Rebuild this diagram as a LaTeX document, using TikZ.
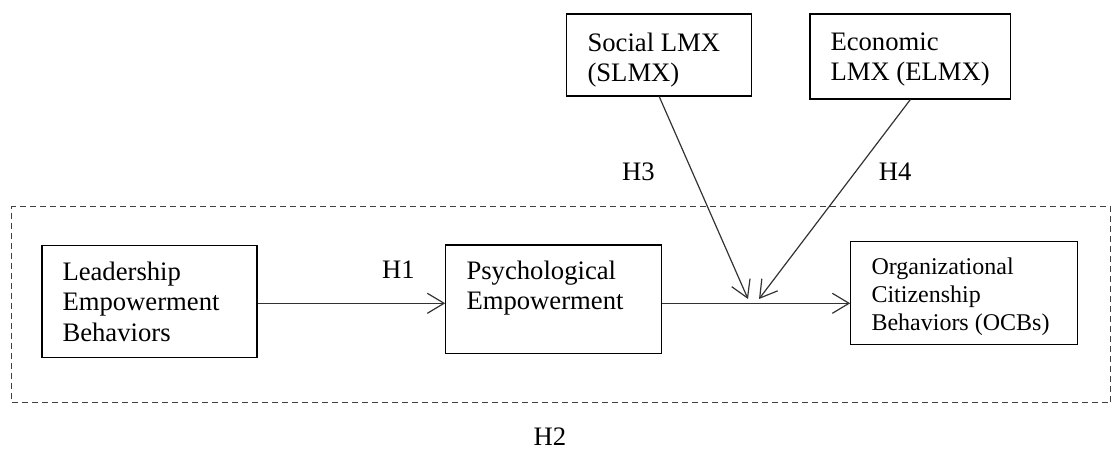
\documentclass[tikz,border=0pt]{standalone}
\usepackage{fontspec}
\setmainfont{Liberation Serif}
\usetikzlibrary{arrows.meta,fit}

\tikzset{every picture/.style={line width=0.75pt}}
\tikzset{
  hbox/.style={draw, inner sep=0pt, line width=0.8pt},
  htxt/.style={inner sep=0.75pt, align=left, font=\fontsize{20}{22.9}\selectfont},
  hlab/.style={inner sep=0.75pt, anchor=base west, font=\fontsize{20}{22.9}\selectfont},
  harr/.style={draw=black!80, line width=0.9pt, -{Straight Barb[length=12.5pt,width=15pt,line width=0.9pt]}},
}

\begin{document}
\begin{tikzpicture}[x=0.75pt,y=0.75pt,yscale=-1,xscale=1]
\useasboundingbox (0,0) rectangle (1113,449);

%Shape: Dashed frame
\node [draw=black!75, dash pattern=on 4.5pt off 3pt, inner sep=0pt, fit={(11.7,206.7)(1110.7,402.7)}] (frame) {};

%Shape: Rectangles
\node [hbox, fit={(42,245.7)(257,357.7)}] (leb) {};
\node [hbox, fit={(445.7,245)(661.7,353.3)}] (peb) {};
\node [hbox, fit={(850.7,241.7)(1077.3,344.3)}] (ocb) {};
\node [hbox, fit={(566.7,14)(751.7,96)}] (slmx) {};
\node [hbox, fit={(810,14)(1010.7,99)}] (elmx) {};

% Text Node
\node [htxt, anchor=north west] (lebtxt) at (61,260) {Leadership\\Empowerment\\Behaviors};
% Text Node
\node [htxt, anchor=north west] (pebtxt) at (465,259) {Psychological\\Empowerment};
% Text Node
\node [htxt, anchor=north west, font=\fontsize{18}{21}\selectfont] (ocbtxt) at (870,256) {Organizational\\Citizenship\\Behaviors (OCBs)};
% Text Node
\node [htxt, anchor=north west] (slmxtxt) at (586,31) {Social LMX\\(SLMX)};
% Text Node
\node [htxt, anchor=north west] (elmxtxt) at (829,31) {Economic\\LMX (ELMX)};

% Hypothesis labels
\node [hlab] (h1) at (380.7,278.3) {H1};
\node [hlab] (h2) at (532,445) {H2};
\node [hlab] (h3) at (620.7,180.6) {H3};
\node [hlab] (h4) at (877.3,180.6) {H4};

%Straight Lines
\coordinate (jn) at (0,303.3);
\coordinate (j3) at (748,299);
\coordinate (j4) at (759,299);
\draw [harr] (leb.east |- jn) -- (peb.west |- jn);
\draw [harr] (peb.east |- jn) -- (ocb.west |- jn);
\draw [harr] (slmx.south) -- (j3);
\draw [harr] (elmx.south) -- (j4);

\end{tikzpicture}
\end{document}
